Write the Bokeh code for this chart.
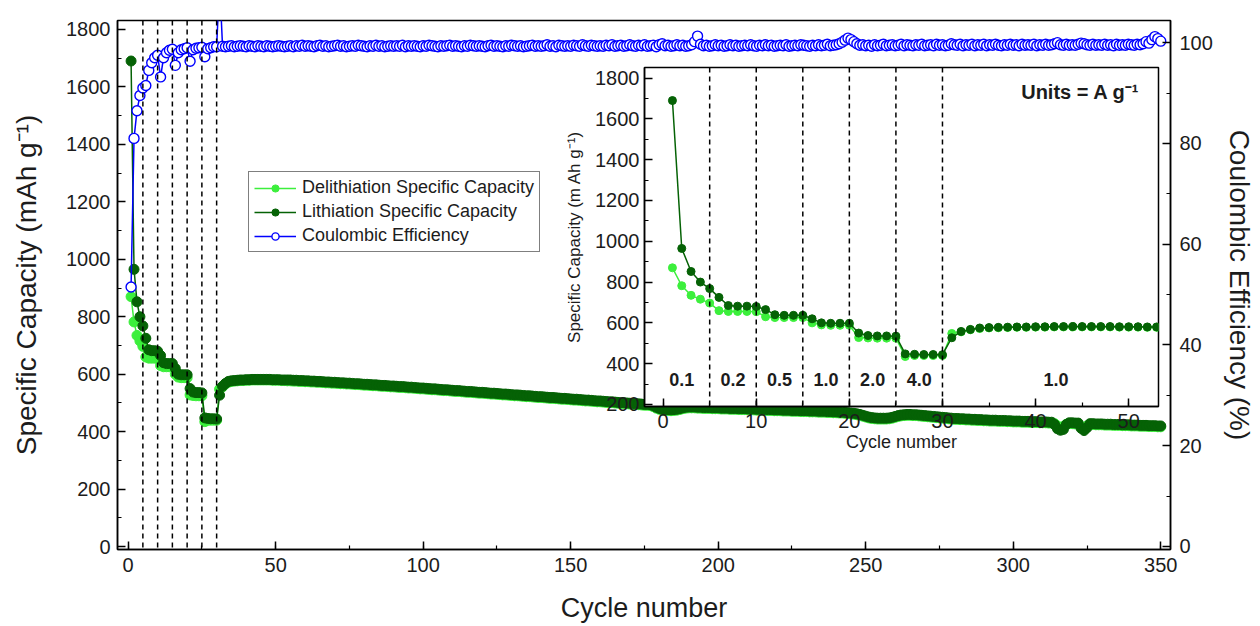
from bokeh.plotting import figure
from bokeh.models import Range1d, LinearAxis, Span, Label, SingleIntervalTicker
from bokeh.embed import file_html
from bokeh.resources import INLINE
from bokeh.core.properties import value

# ---------------- data ----------------
cycles = list(range(1, 351))

lith_early = [1690, 965, 852, 800, 768, 725, 685, 682, 682, 680,
              665, 640, 637, 637, 637, 620, 600, 598, 598, 598,
              550, 538, 536, 536, 535, 448, 446, 445, 445, 444,
              527, 558, 568, 575, 577, 578, 579, 580, 580, 581,
              581, 582, 582, 582, 582, 582, 582, 582, 581, 581,
              581, 580, 580]
delith_early = [870, 782, 735, 716, 697, 660, 656, 656, 656, 655,
                630, 626, 626, 626, 626, 600, 590, 588, 588, 588,
                528, 526, 525, 525, 525, 435, 440, 440, 440, 440,
                548, 556, 566, 572, 575, 576, 577, 578, 578, 579,
                579, 580, 580, 580, 580, 580, 580, 580, 579, 579,
                579, 578, 578]
lith_late = [580, 580, 579, 579, 578, 578, 577,
             577, 576, 576, 575, 575, 574, 573, 573, 572, 572,
             571, 570, 570, 569, 569, 568, 567, 567, 566, 565,
             565, 564, 563, 563, 562, 561, 561, 560, 559, 559,
             558, 557, 557, 556, 555, 555, 554, 553, 552, 552,
             551, 550, 549, 549, 548, 547, 546, 546, 545, 544,
             543, 543, 542, 541, 540, 540, 539, 538, 537, 537,
             536, 535, 534, 534, 533, 532, 531, 531, 530, 529,
             528, 528, 527, 526, 525, 525, 524, 523, 522, 522,
             521, 520, 519, 519, 518, 517, 516, 516, 515, 514,
             513, 513, 512, 511, 510, 510, 509, 508, 507, 507,
             506, 505, 504, 504, 503, 502, 501, 501, 500, 499,
             498, 498, 497, 496, 495, 495, 494, 490, 485, 481,
             478, 477, 477, 476, 477, 478, 480, 483, 485, 486,
             486, 486, 485, 485, 484, 484, 484, 483, 483, 483,
             482, 482, 482, 481, 481, 481, 480, 480, 480, 479,
             479, 479, 478, 478, 478, 477, 477, 477, 476, 476,
             476, 475, 475, 475, 474, 474, 474, 473, 473, 473,
             472, 472, 472, 471, 471, 471, 470, 470, 469, 469,
             468, 468, 467, 466, 465, 464, 462, 460, 457, 454,
             451, 449, 448, 447, 447, 447, 447, 448, 450, 453,
             456, 458, 459, 460, 460, 459, 459, 458, 457, 456,
             455, 454, 453, 452, 451, 450, 449, 448, 447, 446,
             446, 445, 445, 444, 444, 443, 443, 442, 442, 441,
             441, 440, 440, 440, 439, 439, 439, 438, 438, 437,
             437, 437, 436, 436, 436, 435, 435, 435, 434, 434,
             434, 433, 433, 425, 410, 405, 408, 425, 431, 431,
             430, 430, 412, 404, 414, 428, 428, 427, 427, 427,
             426, 426, 426, 425, 425, 425, 424, 424, 424, 423,
             423, 423, 422, 422, 422, 421, 421, 421, 420, 420]
delith_late = [577, 577, 576, 576, 575, 575, 574,
               574, 573, 573, 572, 572, 571, 570, 570, 569, 569,
               568, 567, 567, 566, 566, 565, 564, 564, 563, 562,
               562, 561, 560, 560, 559, 558, 558, 557, 556, 556,
               555, 554, 554, 553, 552, 552, 551, 550, 549, 549,
               548, 547, 546, 546, 545, 544, 543, 543, 542, 541,
               540, 540, 539, 538, 537, 537, 536, 535, 534, 534,
               533, 532, 531, 531, 530, 529, 528, 528, 527, 526,
               525, 525, 524, 523, 522, 522, 521, 520, 519, 519,
               518, 517, 516, 516, 515, 514, 513, 513, 512, 511,
               510, 510, 509, 508, 507, 507, 506, 505, 504, 504,
               503, 502, 501, 501, 500, 499, 498, 498, 497, 496,
               495, 495, 494, 493, 492, 492, 491, 487, 482, 478,
               475, 474, 474, 473, 474, 475, 477, 480, 482, 483,
               483, 483, 482, 482, 481, 481, 481, 480, 480, 480,
               479, 479, 479, 478, 478, 478, 477, 477, 477, 476,
               476, 476, 475, 475, 475, 474, 474, 474, 473, 473,
               473, 472, 472, 472, 471, 471, 471, 470, 470, 470,
               469, 469, 469, 468, 468, 468, 467, 467, 466, 466,
               465, 465, 464, 463, 462, 461, 459, 457, 454, 451,
               448, 446, 445, 444, 444, 444, 444, 445, 447, 450,
               453, 455, 456, 457, 457, 456, 456, 455, 454, 453,
               452, 451, 450, 449, 448, 447, 446, 445, 444, 443,
               443, 442, 442, 441, 441, 440, 440, 439, 439, 438,
               438, 437, 437, 437, 436, 436, 436, 435, 435, 434,
               434, 434, 433, 433, 433, 432, 432, 432, 431, 431,
               431, 430, 430, 428, 420, 415, 418, 426, 428, 428,
               427, 427, 418, 414, 420, 425, 425, 424, 424, 424,
               423, 423, 423, 422, 422, 422, 421, 421, 421, 420,
               420, 420, 419, 419, 419, 418, 418, 418, 417, 417]
ce_early = [51.5, 81.0, 86.5, 89.5, 91.0, 91.5, 94.5, 96.0, 97.0, 97.5,
            93.2, 97.0, 98.0, 98.5, 98.7, 95.5, 98.0, 98.6, 98.8, 99.0,
            96.3, 98.6, 98.9, 99.0, 99.1, 97.2, 98.8, 99.0, 99.2, 99.2,
            112.0, 99.3, 99.2, 99.3, 99.4, 99.2, 99.3, 99.4, 99.3, 99.2,
            99.4, 99.3, 99.2, 99.4, 99.3, 99.2, 99.4, 99.3, 99.2, 99.3,
            99.4, 99.3, 99.2]
ce_late = [99.3, 99.4, 99.2, 99.4, 99.3, 99.5, 99.3,
           99.4, 99.3, 99.2, 99.4, 99.5, 99.3, 99.4, 99.2, 99.3, 99.4,
           99.5, 99.3, 99.4, 99.2, 99.3, 99.4, 99.3, 99.5, 99.4, 99.3,
           99.2, 99.4, 99.3, 99.5, 99.3, 99.4, 99.2, 99.3, 99.4, 99.3,
           99.4, 99.3, 99.5, 99.2, 99.4, 99.3, 99.4, 99.3, 99.2, 99.4,
           99.3, 99.5, 99.4, 99.3, 99.2, 99.4, 99.3, 99.4, 99.5, 99.3,
           99.4, 99.3, 99.2, 99.4, 99.3, 99.5, 99.4, 99.3, 99.4, 99.3,
           99.2, 99.4, 99.5, 99.3, 99.4, 99.3, 99.2, 99.4, 99.3, 99.5,
           99.4, 99.3, 99.4, 99.2, 99.3, 99.4, 99.5, 99.3, 99.4, 99.3,
           99.4, 99.6, 99.3, 99.4, 99.2, 99.5, 99.4, 99.3, 99.4, 99.3,
           99.5, 99.4, 99.3, 99.6, 99.4, 99.3, 99.5, 99.4, 99.3, 99.4,
           99.3, 99.5, 99.4, 99.6, 99.3, 99.4, 99.5, 99.3, 99.4, 99.6,
           99.4, 99.3, 99.5, 99.4, 99.6, 99.3, 99.4, 99.5, 99.2, 99.6,
           99.8, 99.4, 99.5, 99.3, 99.4, 99.6, 99.4, 99.5, 99.3, 99.4,
           99.6, 100.2, 101.3, 99.7, 99.4, 99.5, 99.3, 99.4, 99.6, 99.4,
           99.5, 99.3, 99.4, 99.6, 99.4, 99.5, 99.3, 99.4, 99.5, 99.4,
           99.6, 99.4, 99.3, 99.5, 99.4, 99.6, 99.4, 99.5, 99.3, 99.4,
           99.5, 99.4, 99.6, 99.3, 99.4, 99.5, 99.4, 99.6, 99.5, 99.4,
           99.3, 99.5, 99.4, 99.6, 99.4, 99.5, 99.7, 99.4, 99.5, 99.6,
           99.8, 100.1, 100.5, 100.9, 100.6, 100.2, 99.8, 99.5, 99.6, 99.4,
           99.5, 99.3, 99.6, 99.4, 99.5, 99.7, 99.4, 99.5, 99.6, 99.4,
           99.5, 99.7, 99.4, 99.6, 99.5, 99.4, 99.6, 99.5, 99.7, 99.4,
           99.5, 99.6, 99.4, 99.7, 99.5, 99.6, 99.4, 99.5, 99.8, 99.6,
           99.5, 99.7, 99.4, 99.6, 99.5, 99.7, 99.4, 99.6, 99.5, 99.7,
           99.4, 99.6, 99.5, 99.7, 99.5, 99.4, 99.6, 99.5, 99.7, 99.5,
           99.6, 99.4, 99.7, 99.5, 99.6, 99.5, 99.7, 99.4, 99.6, 99.5,
           99.7, 99.5, 99.6, 99.8, 100.0, 99.6, 99.5, 99.7, 99.5, 99.6,
           99.5, 99.7, 99.9, 99.8, 99.6, 99.5, 99.7, 99.5, 99.6, 99.5,
           99.7, 99.5, 99.6, 99.4, 99.7, 99.5, 99.6, 99.5, 99.7, 99.6,
           99.5, 99.7, 99.6, 99.8, 100.2, 99.9, 100.6, 101.2, 100.8, 100.3]

lith = lith_early + lith_late
delith = delith_early + delith_late
ce = ce_early + ce_late
assert len(lith) == len(delith) == len(ce) == len(cycles)

rate_bounds = [5, 10, 15, 20, 25, 30]
rate_labels = ["0.1", "0.2", "0.5", "1.0", "2.0", "4.0", "1.0"]
rate_label_x = [2.0, 7.5, 12.5, 17.5, 22.5, 27.5, 42.2]
rate_label_y = [320] * 7
inset_n = 53

# ---------------- style ----------------
FONT = "Liberation Sans"
LIGHT = "#3cef3c"
DARK = "#056205"
BLUE = "#0000ff"
TXT = "#1c1c1c"


def style_axis(ax, label_size, tick_size, label_standoff, tick_standoff):
    ax.axis_label_text_font = FONT
    ax.axis_label_text_font_style = "normal"
    ax.axis_label_text_font_size = label_size
    ax.axis_label_text_color = TXT
    ax.major_label_text_font = FONT
    ax.major_label_text_font_size = tick_size
    ax.major_label_text_color = TXT
    ax.axis_label_standoff = label_standoff
    ax.major_label_standoff = tick_standoff
    ax.major_tick_in = 8
    ax.major_tick_out = 0
    ax.minor_tick_in = 4
    ax.minor_tick_out = 0
    ax.axis_line_color = "black"
    ax.axis_line_width = 1.5
    ax.major_tick_line_width = 1.5
    ax.minor_tick_line_width = 1.2


# ---------------- main figure ----------------
p = figure(width=1260, height=626, x_range=Range1d(-3.6, 353.3), y_range=Range1d(-10, 1831),
           output_backend="svg", toolbar_location=None,
           min_border_left=117, min_border_right=90, min_border_top=20, min_border_bottom=77)
p.extra_y_ranges = {"ce": Range1d(-0.6, 104.4)}
p.grid.visible = False
p.outline_line_color = "black"
p.outline_line_width = 1.5
p.background_fill_color = "white"
p.border_fill_color = "white"

for b in rate_bounds:
    p.add_layout(Span(location=b, dimension="height", line_color="black",
                      line_dash="5 4", line_width=1.5))

p.line(cycles, delith, color=LIGHT, line_width=1.5, legend_label="Delithiation Specific Capacity")
p.scatter(cycles, delith, size=10, fill_color=LIGHT, line_color=LIGHT,
          legend_label="Delithiation Specific Capacity")
p.line(cycles, lith, color=DARK, line_width=1.5, legend_label="Lithiation Specific Capacity")
p.scatter(cycles, lith, size=10, fill_color=DARK, line_color=DARK,
          legend_label="Lithiation Specific Capacity")
p.line(cycles, ce, y_range_name="ce", color=BLUE, line_width=1.5, legend_label="Coulombic Efficiency")
p.scatter(cycles, ce, y_range_name="ce", size=10, fill_color="white", line_color=BLUE,
          line_width=1.4, legend_label="Coulombic Efficiency")

p.xaxis.axis_label = "Cycle number"
p.xaxis.ticker = SingleIntervalTicker(interval=50, num_minor_ticks=2)
p.yaxis.axis_label = "Specific Capacity (mAh g\u207b\u00b9)"
p.yaxis.ticker = SingleIntervalTicker(interval=200, num_minor_ticks=2)
style_axis(p.xaxis[0], "27px", "20px", 18, 8)
style_axis(p.yaxis[0], "28px", "20px", 21, 7)

rax = LinearAxis(y_range_name="ce", axis_label="Coulombic Efficiency (%)",
                 ticker=SingleIntervalTicker(interval=20, num_minor_ticks=2))
style_axis(rax, "28px", "20px", 8, 9)
p.add_layout(rax, "right")

lg = p.legend[0]
lg.location = (131, 297)
lg.label_text_font = FONT
lg.label_text_font_size = "18px"
lg.label_text_color = TXT
lg.glyph_width = 42
lg.glyph_height = 18
lg.label_height = 19
lg.label_standoff = 6
lg.spacing = 3
lg.padding = 5
lg.margin = 0
lg.border_line_color = "black"
lg.border_line_width = 1.5
lg.background_fill_color = "white"
lg.background_fill_alpha = 1.0

# ---------------- inset ----------------
ix = cycles[:inset_n]
inset = figure(width=600, height=400, x_range=Range1d(-2.0, 53.2), y_range=Range1d(190, 1852),
               output_backend="svg", toolbar_location=None,
               min_border_left=80, min_border_right=4, min_border_top=12, min_border_bottom=49)
inset.grid.visible = False
inset.outline_line_color = "black"
inset.outline_line_width = 1.5
inset.background_fill_color = "white"
inset.border_fill_alpha = 0.0
inset.styles = {"position": "absolute", "left": "562px", "top": "55px",
                "width": "600px", "height": "400px", "z-index": "2"}

for b in rate_bounds:
    inset.add_layout(Span(location=b, dimension="height", line_color="black",
                          line_dash="5 4", line_width=1.5))

inset.line(ix, delith[:inset_n], color=LIGHT, line_width=1.5)
inset.scatter(ix, delith[:inset_n], size=8, fill_color=LIGHT, line_color=LIGHT)
inset.line(ix, lith[:inset_n], color=DARK, line_width=1.5)
inset.scatter(ix, lith[:inset_n], size=8, fill_color=DARK, line_color=DARK)

inset.text(x=rate_label_x, y=rate_label_y, text=rate_labels, text_font=value(FONT),
           text_font_size="18px", text_font_style="bold", text_color=TXT,
           text_align="center", text_baseline="middle")
inset.add_layout(Label(x=51.2, y=1730, text="Units = A g\u207b\u00b9", text_font=FONT,
                       text_font_size="20px", text_font_style="bold", text_color=TXT,
                       text_align="right", text_baseline="middle"))

inset.xaxis.axis_label = "Cycle number"
inset.xaxis.ticker = SingleIntervalTicker(interval=10, num_minor_ticks=2)
inset.yaxis.axis_label = "Specific Capacity (m Ah g\u207b\u00b9)"
inset.yaxis.ticker = SingleIntervalTicker(interval=200, num_minor_ticks=2)
style_axis(inset.xaxis[0], "18px", "20px", 1, 7)
style_axis(inset.yaxis[0], "17px", "20px", 8, 5)

open("out.html", "w").write(file_html([p, inset], INLINE))
